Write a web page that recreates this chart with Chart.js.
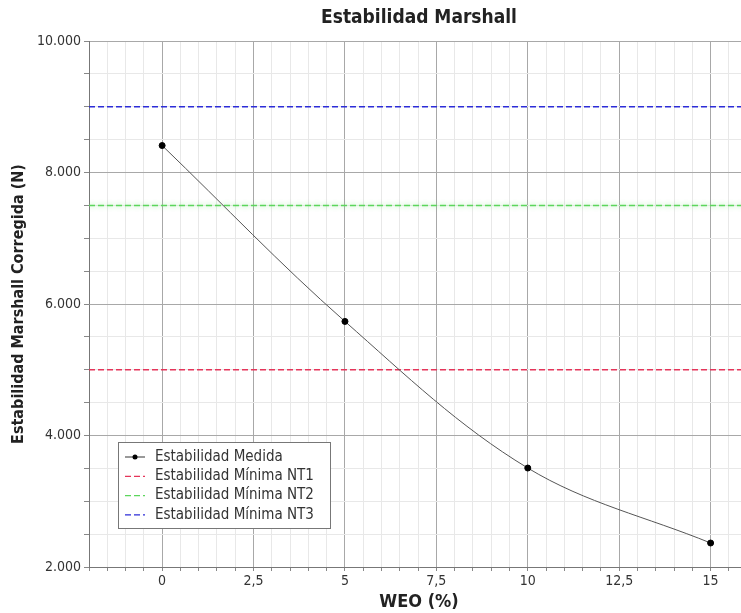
<!DOCTYPE html>
<html>
<head>
<meta charset="utf-8">
<script src="https://cdn.jsdelivr.net/npm/chart.js@4.4.1/dist/chart.umd.min.js"></script>
<style>
  html, body { margin: 0; padding: 0; background: #fff; overflow: hidden; }
  #wrap { width: 754px; height: 613px; position: relative; }
</style>
</head>
<body>
<div id="wrap"><canvas id="marshall"></canvas></div>
<script>
const FONT = "'DejaVu Sans Condensed', 'DejaVu Sans', sans-serif";

// data
const weo = [0, 5, 10, 15];
const estabilidadMedida = [8410, 5735, 3505, 2365];
const minimos = [5000, 7500, 9000];
const seriesLabels = [
  "Estabilidad Medida",
  "Estabilidad Mínima NT1",
  "Estabilidad Mínima NT2",
  "Estabilidad Mínima NT3",
];
const xMajorTicks = [0, 2.5, 5, 7.5, 10, 12.5, 15];
const yMajorTicks = [2000, 4000, 6000, 8000, 10000];
const xRange = [-2, 16.05];
const yRange = [2000, 10000];

const lineColors = ["#555555", "#e5355a", "#5cd65c", "#2c2cd8"];

function fmtThousands(v) {
  return String(v).replace(/\B(?=(\d{3})+(?!\d))/g, ".");
}

function buildDatasets() {
  let sets = [
    {
      label: seriesLabels[0],
      data: weo.map((x, i) => ({ x: x, y: estabilidadMedida[i] })),
      borderColor: lineColors[0],
      borderWidth: 1,
      pointRadius: 3,
      pointBackgroundColor: "#000",
      pointBorderColor: "#000",
      tension: 0.35,
    },
  ];
  minimos.forEach((m, i) => {
    sets.push({
      label: seriesLabels[i + 1],
      data: xRange.map((x) => ({ x: x, y: m })),
      borderColor: lineColors[i + 1],
      borderWidth: 1.5,
      borderDash: [6, 3],
      pointRadius: 0,
    });
  });
  return sets;
}

// title centred over the plot area
const titlePlugin = {
  id: "plotTitle",
  afterDraw(chart) {
    const ctx = chart.ctx;
    const a = chart.chartArea;
    ctx.save();
    ctx.font = "bold 19px " + FONT;
    ctx.fillStyle = "#222";
    ctx.textAlign = "center";
    ctx.textBaseline = "middle";
    ctx.fillText("Estabilidad Marshall", (a.left + a.right) / 2, 18);
    ctx.restore();
  },
};

// soft glow under the NT2 line
const glowPlugin = {
  id: "glow",
  beforeDatasetDraw(chart, args) {
    if (args.index === 2) {
      chart.ctx.save();
      chart.ctx.shadowColor = "rgba(120,230,120,0.8)";
      chart.ctx.shadowBlur = 5;
    }
  },
  afterDatasetDraw(chart, args) {
    if (args.index === 2) chart.ctx.restore();
  },
};

// legend box inside the plot, lower left
const boxLegend = {
  id: "boxLegend",
  afterDraw(chart) {
    const ctx = chart.ctx;
    const a = chart.chartArea;
    const left = a.left + 29;
    const top = a.bottom - 125;
    const w = 212;
    const h = 86;
    ctx.save();
    ctx.fillStyle = "#fff";
    ctx.fillRect(left, top, w, h);
    ctx.strokeStyle = "#777";
    ctx.lineWidth = 1;
    ctx.strokeRect(left + 0.5, top + 0.5, w, h);
    ctx.font = "15px " + FONT;
    ctx.textBaseline = "middle";
    chart.data.datasets.forEach((ds, i) => {
      const y = top + 15 + i * 19.3;
      ctx.strokeStyle = ds.borderColor;
      ctx.lineWidth = 1.2;
      ctx.setLineDash(ds.borderDash || []);
      ctx.beginPath();
      ctx.moveTo(left + 7, y);
      ctx.lineTo(left + 27, y);
      ctx.stroke();
      ctx.setLineDash([]);
      if (ds.pointRadius) {
        ctx.fillStyle = "#000";
        ctx.beginPath();
        ctx.arc(left + 17, y, 2.5, 0, Math.PI * 2);
        ctx.fill();
      }
      ctx.fillStyle = "#333";
      ctx.fillText(ds.label, left + 37, y);
    });
    ctx.restore();
  },
};

function buildConfig() {
  return {
    type: "line",
    data: { datasets: buildDatasets() },
    options: {
      responsive: true,
      maintainAspectRatio: false,
      animation: false,
      layout: { padding: { top: 41, left: 0, right: 0, bottom: 0 } },
      plugins: {
        legend: { display: false },
        title: { display: false },
        tooltip: { enabled: false },
      },
      scales: {
        x: {
          type: "linear",
          min: xRange[0],
          max: xRange[1],
          afterFit: (s) => { s.height = 46; },
          ticks: {
            stepSize: 0.5,
            autoSkip: false,
            maxRotation: 0,
            padding: 2,
            color: "#333",
            font: { family: FONT, size: 14 },
            callback: (v) =>
              xMajorTicks.includes(v) ? String(v).replace(".", ",") : "",
          },
          grid: {
            color: (c) =>
              xMajorTicks.includes(c.tick && c.tick.value) ? "#a8a8a8" : "#e8e8e8",
            tickColor: "#888",
            tickLength: 4,
          },
          border: { color: "#777" },
          title: {
            display: true,
            text: "WEO (%)",
            color: "#222",
            font: { family: FONT, size: 18, weight: "bold" },
            padding: { top: 0, bottom: 0 },
          },
        },
        y: {
          min: yRange[0],
          max: yRange[1],
          afterFit: (s) => { s.width = 89; },
          ticks: {
            stepSize: 500,
            padding: 3,
            color: "#333",
            font: { family: FONT, size: 14 },
            callback: (v) => (yMajorTicks.includes(v) ? fmtThousands(v) : ""),
          },
          grid: {
            color: (c) =>
              yMajorTicks.includes(c.tick && c.tick.value) ? "#a8a8a8" : "#e8e8e8",
            tickColor: "#888",
            tickLength: 5,
          },
          border: { color: "#777" },
          title: {
            display: true,
            text: "Estabilidad Marshall Corregida (N)",
            color: "#222",
            font: { family: FONT, size: 16, weight: "bold" },
            padding: { top: 9, bottom: 0 },
          },
        },
      },
    },
    plugins: [glowPlugin, titlePlugin, boxLegend],
  };
}

const ctx = document.getElementById("marshall").getContext("2d");
new Chart(ctx, buildConfig());
</script>
</body>
</html>
